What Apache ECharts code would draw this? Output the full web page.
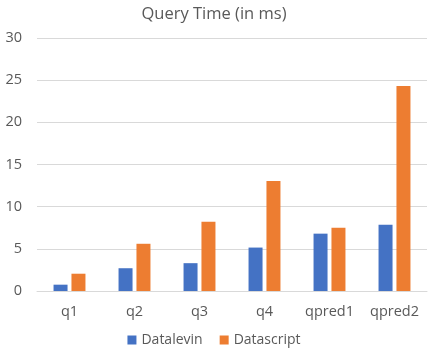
<!DOCTYPE html>
<html>
<head>
<meta charset="utf-8">
<script src="https://cdn.jsdelivr.net/npm/echarts@6/dist/echarts.min.js"></script>
<style>
  html, body { margin: 0; padding: 0; background: #fff; }
  #chart { width: 428px; height: 354px; }
</style>
</head>
<body>
<div id="chart"></div>
<script>
// categories and series
var categories = ['q1', 'q2', 'q3', 'q4', 'qpred1', 'qpred2'];
var datalevin = [0.75, 2.7, 3.3, 5.15, 6.8, 7.85];
var datascript = [2.05, 5.6, 8.2, 13.05, 7.5, 24.3];

var chart = echarts.init(document.getElementById('chart'));
var font = 'Open Sans, Liberation Sans, sans-serif';

var option = {
    animation: false,
    title: {
        text: 'Query Time (in ms)',
        left: 'center',
        top: 1,
        textStyle: { color: '#595959', fontSize: 16.5, fontWeight: 'normal', fontFamily: font }
    },
    legend: {
        data: ['Datalevin', 'Datascript'],
        bottom: 2,
        left: 'center',
        itemWidth: 9,
        itemHeight: 9,
        itemGap: 17,
        icon: 'rect',
        textStyle: { color: '#595959', fontSize: 14, fontFamily: font }
    },
    grid: { left: 37, right: 1, top: 38, bottom: 63 },
    xAxis: {
        type: 'category',
        data: categories,
        axisLine: { lineStyle: { color: '#d9d9d9' } },
        axisTick: { show: false },
        axisLabel: { color: '#595959', fontSize: 14.5, margin: 13, fontFamily: font }
    },
    yAxis: {
        type: 'value',
        min: 0,
        max: 30,
        interval: 5,
        axisLine: { show: false },
        axisTick: { show: false },
        axisLabel: { color: '#595959', fontSize: 14.5, margin: 15, fontFamily: font },
        splitLine: { lineStyle: { color: '#d9d9d9' } }
    },
    series: [{
        name: 'Datalevin',
        type: 'bar',
        data: datalevin,
        barWidth: 14,
        barGap: '28%',
        itemStyle: { color: '#4472C4' }
    }, {
        name: 'Datascript',
        type: 'bar',
        data: datascript,
        barWidth: 14,
        itemStyle: { color: '#ED7D31' }
    }]
};

chart.setOption(option);
</script>
</body>
</html>
